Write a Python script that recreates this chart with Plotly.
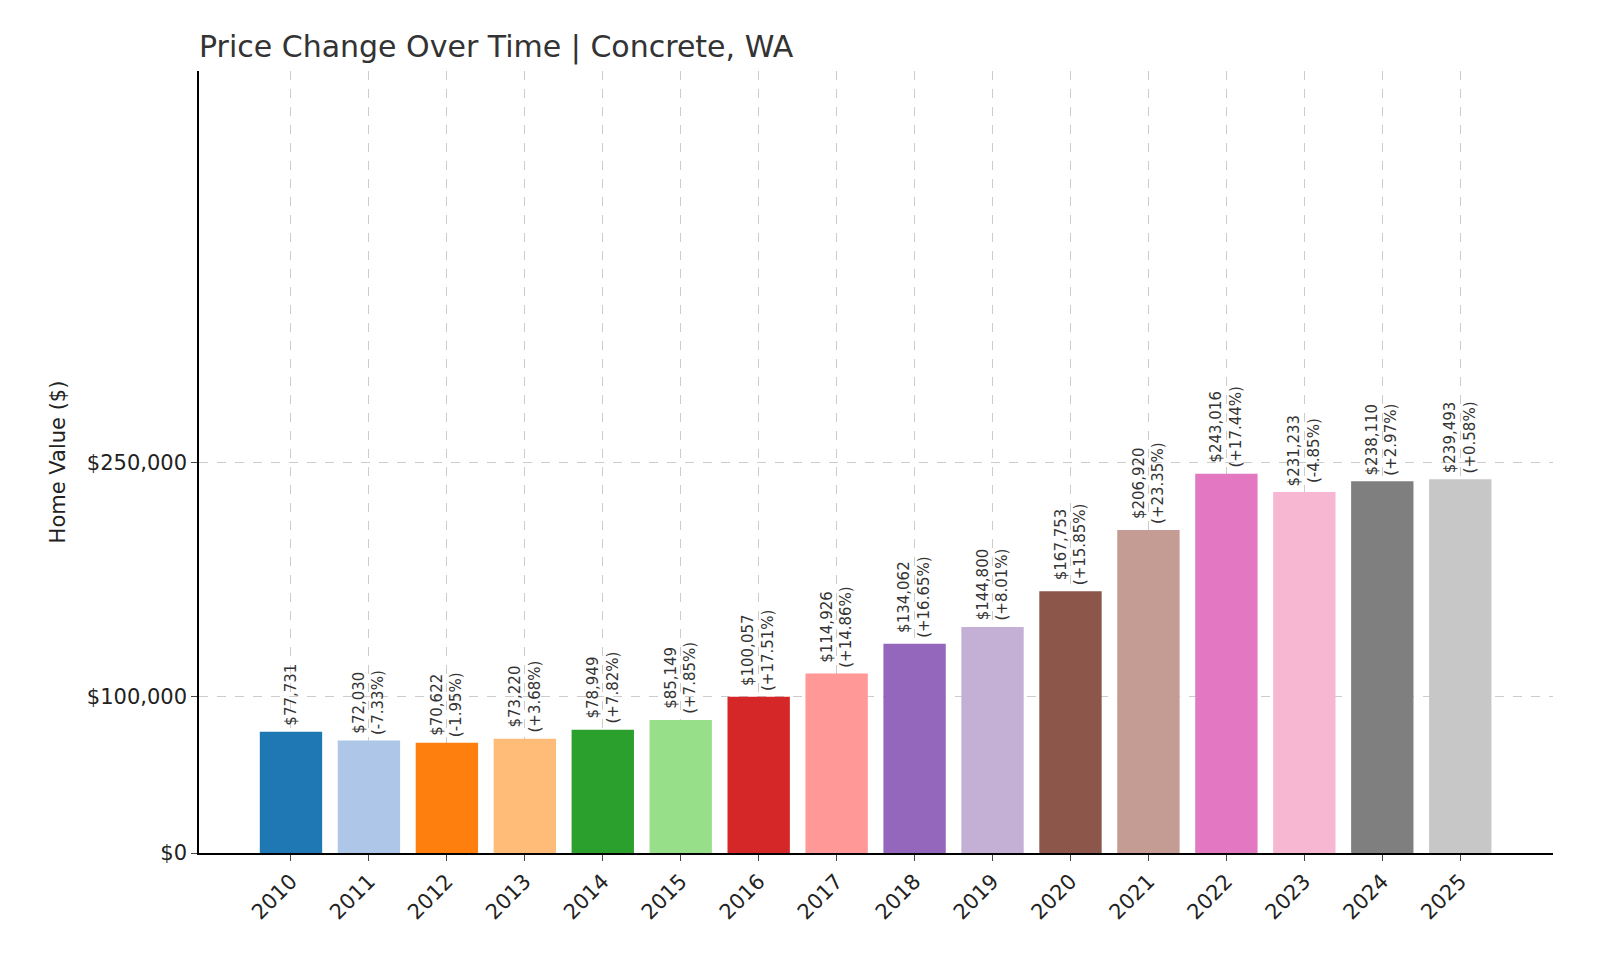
import plotly.graph_objects as go

years = list(range(2010, 2026))
values = [77731, 72030, 70622, 73220, 78949, 85149, 100057, 114926, 134062,
          144800, 167753, 206920, 243016, 231233, 238110, 239493]
changes = [None, -7.33, -1.95, 3.68, 7.82, 7.85, 17.51, 14.86, 16.65,
           8.01, 15.85, 23.35, 17.44, -4.85, 2.97, 0.58]
colors = ["#1f77b4", "#aec7e8", "#ff7f0e", "#ffbb78", "#2ca02c", "#98df8a",
          "#d62728", "#ff9896", "#9467bd", "#c5b0d5", "#8c564b", "#c49c94",
          "#e377c2", "#f7b6d2", "#7f7f7f", "#c7c7c7"]

fig = go.Figure()
fig.add_trace(go.Bar(x=years, y=values, marker_color=colors, width=0.8,
                     marker_line_width=0, showlegend=False))

for yr, v, c in zip(years, values, changes):
    txt = f"${v:,}" if c is None else f"${v:,}<br>({c:+.2f}%)"
    fig.add_annotation(x=yr, y=v, text=txt, textangle=-90, showarrow=False,
                       xanchor="center", yanchor="bottom", yshift=4,
                       font=dict(size=15, color="#333333"))

fig.update_layout(
    width=1600, height=960,
    paper_bgcolor="white", plot_bgcolor="white",
    margin=dict(l=191, r=55, t=63, b=115),
    font=dict(family="DejaVu Sans", color="#222222"),
    title=dict(text="Price Change Over Time | Concrete, WA", x=191/1600, xanchor="left",
               y=1-38/960, yanchor="middle", font=dict(size=30, color="#333333")),
    bargap=0.2,
)
fig.update_xaxes(range=[2008.82, 2026.19], tickmode="array", tickvals=years,
                 tickangle=-45, tickfont=dict(size=21), showgrid=True,
                 gridcolor="#cccccc", griddash="dash", gridwidth=1,
                 showline=True, linecolor="black", linewidth=1.5,
                 ticks="outside", ticklen=6)
fig.update_yaxes(range=[0, 501000], tickmode="array", tickvals=[0, 100000, 250000],
                 ticktext=["$0", "$100,000", "$250,000"], tickfont=dict(size=21),
                 title=dict(text="Home Value ($)", font=dict(size=21)),
                 showgrid=True, gridcolor="#cccccc", griddash="dash",
                 showline=True, linecolor="black", linewidth=1.5,
                 ticks="outside", ticklen=6, zeroline=False)

fig.write_html("out.html")
